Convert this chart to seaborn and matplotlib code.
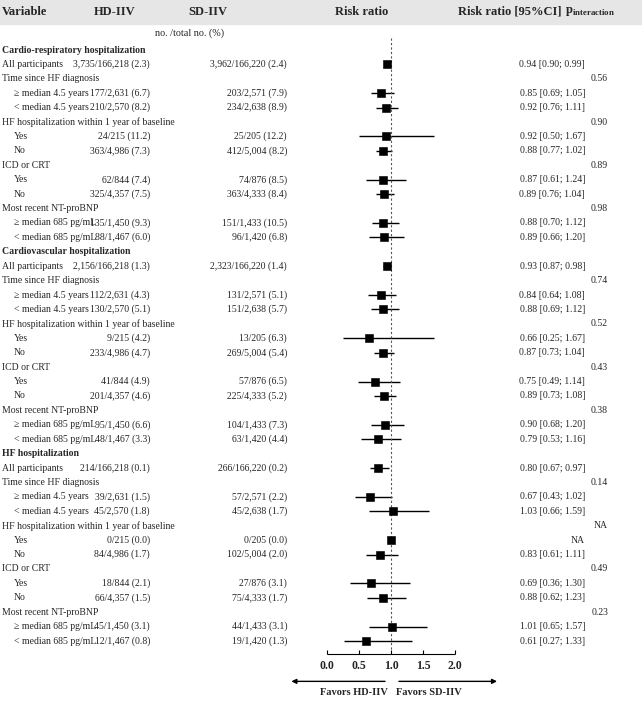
import numpy as np
import pandas as pd
import seaborn as sns
import matplotlib.pyplot as plt

sns.set_theme(style="white")
plt.rcParams['font.family'] = ['Liberation Serif', 'DejaVu Serif']

sections = ['Cardio-respiratory hospitalization', 'Cardiovascular hospitalization', 'HF hospitalization']
sub_labels = ['All participants', 'Time since HF diagnosis', '≥ median 4.5 years', '< median 4.5 years',
              'HF hospitalization within 1 year of baseline', 'Yes', 'No',
              'ICD or CRT', 'Yes', 'No',
              'Most recent NT-proBNP', '≥ median 685 pg/mL', '< median 685 pg/mL']
is_group = [0, 1, 0, 0, 1, 0, 0, 1, 0, 0, 1, 0, 0]

hd_counts = [
    ['3,735/166,218 (2.3)', '', '177/2,631 (6.7)', '210/2,570 (8.2)', '', '24/215 (11.2)', '363/4,986 (7.3)',
     '', '62/844 (7.4)', '325/4,357 (7.5)', '', '135/1,450 (9.3)', '88/1,467 (6.0)'],
    ['2,156/166,218 (1.3)', '', '112/2,631 (4.3)', '130/2,570 (5.1)', '', '9/215 (4.2)', '233/4,986 (4.7)',
     '', '41/844 (4.9)', '201/4,357 (4.6)', '', '95/1,450 (6.6)', '48/1,467 (3.3)'],
    ['214/166,218 (0.1)', '', '39/2,631 (1.5)', '45/2,570 (1.8)', '', '0/215 (0.0)', '84/4,986 (1.7)',
     '', '18/844 (2.1)', '66/4,357 (1.5)', '', '45/1,450 (3.1)', '12/1,467 (0.8)'],
]
sd_counts = [
    ['3,962/166,220 (2.4)', '', '203/2,571 (7.9)', '234/2,638 (8.9)', '', '25/205 (12.2)', '412/5,004 (8.2)',
     '', '74/876 (8.5)', '363/4,333 (8.4)', '', '151/1,433 (10.5)', '96/1,420 (6.8)'],
    ['2,323/166,220 (1.4)', '', '131/2,571 (5.1)', '151/2,638 (5.7)', '', '13/205 (6.3)', '269/5,004 (5.4)',
     '', '57/876 (6.5)', '225/4,333 (5.2)', '', '104/1,433 (7.3)', '63/1,420 (4.4)'],
    ['266/166,220 (0.2)', '', '57/2,571 (2.2)', '45/2,638 (1.7)', '', '0/205 (0.0)', '102/5,004 (2.0)',
     '', '27/876 (3.1)', '75/4,333 (1.7)', '', '44/1,433 (3.1)', '19/1,420 (1.3)'],
]
rr = [
    [0.94, None, 0.85, 0.92, None, 0.92, 0.88, None, 0.87, 0.89, None, 0.88, 0.89],
    [0.93, None, 0.84, 0.88, None, 0.66, 0.87, None, 0.75, 0.89, None, 0.90, 0.79],
    [0.80, None, 0.67, 1.03, None, 1.00, 0.83, None, 0.69, 0.88, None, 1.01, 0.61],
]
lo = [
    [0.90, None, 0.69, 0.76, None, 0.50, 0.77, None, 0.61, 0.76, None, 0.70, 0.66],
    [0.87, None, 0.64, 0.69, None, 0.25, 0.73, None, 0.49, 0.73, None, 0.68, 0.53],
    [0.67, None, 0.43, 0.66, None, None, 0.61, None, 0.36, 0.62, None, 0.65, 0.27],
]
hi = [
    [0.99, None, 1.05, 1.11, None, 1.67, 1.02, None, 1.24, 1.04, None, 1.12, 1.20],
    [0.98, None, 1.08, 1.12, None, 1.67, 1.04, None, 1.14, 1.08, None, 1.20, 1.16],
    [0.97, None, 1.02, 1.59, None, None, 1.11, None, 1.30, 1.23, None, 1.57, 1.33],
]
p_int = [
    ['0.56', '0.90', '0.89', '0.98'],
    ['0.74', '0.52', '0.43', '0.38'],
    ['0.14', 'NA', '0.49', '0.23'],
]

# build the row table
rows = []
for s, name in enumerate(sections):
    rows.append(dict(label=name, kind='section'))
    g = 0
    for i, lab in enumerate(sub_labels):
        r = dict(label=lab, kind='group' if is_group[i] else ('item' if i > 0 else 'all'),
                 hd=hd_counts[s][i], sd=sd_counts[s][i], rr=rr[s][i], lo=lo[s][i], hi=hi[s][i])
        if is_group[i]:
            r['p'] = p_int[s][g]
            g += 1
        rows.append(r)
df = pd.DataFrame(rows)
df['y'] = np.arange(len(df))

W, H = 642, 704
fig = plt.figure(figsize=(W / 100, H / 100), dpi=100)
fig.patch.set_facecolor('white')
ax = fig.add_axes([0, 0, 1, 1])
ax.set_facecolor('none')
# x scale: rr 0 at px 327, 64 px per unit
ax.set_xlim(-327 / 64, (W - 327) / 64)
# y scale: row 0 at px 50, last row at px 641
step = (641 - 50) / (len(df) - 1)
ax.set_ylim((H - 50) / step, -50 / step)
ax.axis('off')

def px(x):
    return x / W

def ypx(y):
    return 1 - y / H

fs = 7.0
# header band
fig.patches.append(plt.Rectangle((0, ypx(24)), 1, 24 / H, transform=fig.transFigure,
                                 color='#e6e6e6', zorder=0))
hdr = dict(fontsize=9, fontweight='bold', va='center', transform=fig.transFigure)
fig.text(px(2), ypx(12), 'Variable', ha='left', **hdr)
fig.text(px(115), ypx(12), 'HD-IIV', ha='center', **hdr)
fig.text(px(208), ypx(12), 'SD-IIV', ha='center', **hdr)
fig.text(px(362), ypx(12), 'Risk ratio', ha='center', **hdr)
fig.text(px(510), ypx(12), 'Risk ratio [95%CI]', ha='center', **hdr)
fig.text(px(590), ypx(12), r'p$_{\mathregular{interaction}}$', ha='center', **hdr)
fig.text(px(190), ypx(33), 'no. /total no. (%)', ha='center', va='center', fontsize=fs + 0.3)

tr = ax.get_yaxis_transform()
for _, r in df.iterrows():
    y = r['y']
    if r['kind'] == 'section':
        ax.text(px(2), y, r['label'], transform=tr, fontsize=fs, fontweight='bold', va='center', ha='left')
        continue
    indent = 14 if r['kind'] == 'item' else 2
    ax.text(px(indent), y, r['label'], transform=tr, fontsize=fs, va='center')
    if r['kind'] == 'group':
        ax.text(px(608), y, r['p'], transform=tr, fontsize=fs, va='center', ha='right')
        continue
    ax.text(px(150), y, r['hd'], transform=tr, fontsize=fs, va='center', ha='right')
    ax.text(px(287), y, r['sd'], transform=tr, fontsize=fs, va='center', ha='right')
    if pd.isna(r['lo']):
        txt = 'NA'
    else:
        txt = f"{r['rr']:.2f} [{r['lo']:.2f}; {r['hi']:.2f}]"
    ax.text(px(585), y, txt, transform=tr, fontsize=fs, va='center', ha='right')

ci = df.dropna(subset=['lo'])
ax.hlines(ci['y'], ci['lo'], ci['hi'], color='black', lw=1)
pts = df.dropna(subset=['rr'])
sns.scatterplot(data=pts, x='rr', y='y', marker='s', s=28, color='black', edgecolor='black',
                ax=ax, legend=False, zorder=3)

ax.vlines(1.0, -0.8, len(df) - 0.4, color='#555555', lw=0.8, linestyles=(0, (2, 2)))

# x axis
ya = len(df) - 0.1
ax.hlines(ya, 0, 2, color='black', lw=0.8)
for t in [0, 0.5, 1.0, 1.5, 2.0]:
    ax.vlines(t, ya, ya - 0.3, color='black', lw=0.8)
    ax.text(t, ya + 0.85, f'{t:.1f}', ha='center', va='center', fontsize=8.5, fontweight='bold')
ya2 = ya + 1.9
ax.annotate('', xy=(-0.6, ya2), xytext=(0.95, ya2),
            arrowprops=dict(arrowstyle='-|>', color='black', lw=1, mutation_scale=7))
ax.annotate('', xy=(2.7, ya2), xytext=(1.08, ya2),
            arrowprops=dict(arrowstyle='-|>', color='black', lw=1, mutation_scale=7))
ax.text(0.95, ya2 + 0.75, 'Favors HD-IIV', ha='right', va='center', fontsize=7.5, fontweight='bold')
ax.text(1.08, ya2 + 0.75, 'Favors SD-IIV', ha='left', va='center', fontsize=7.5, fontweight='bold')

fig.savefig('out.png', dpi=100)
